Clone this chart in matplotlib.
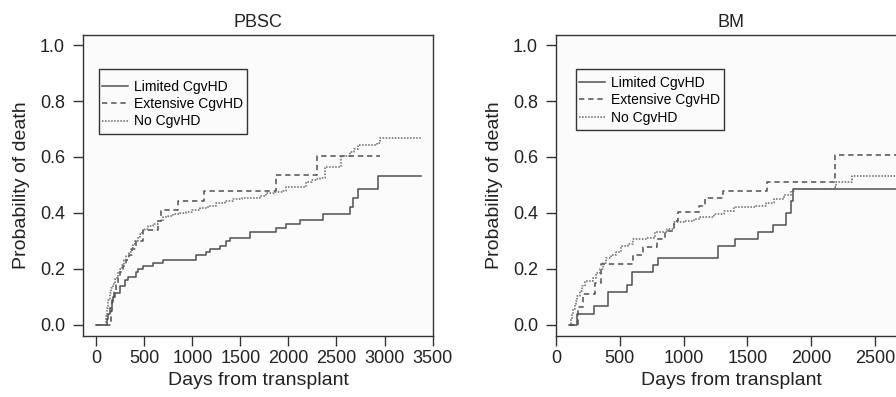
import matplotlib
matplotlib.use("Agg")
import matplotlib.pyplot as plt
from matplotlib.patches import Rectangle

plt.rcParams['font.family'] = ['Liberation Sans', 'DejaVu Sans']

# ---- data (days, cumulative probability of death) ----
# PBSC panel
pbsc_lim_x = [0, 105, 125, 140, 160, 175, 191, 243, 295, 330, 417, 434, 486, 590, 694,
              1042, 1146, 1187, 1285, 1354, 1389, 1597, 1875, 1979, 2118, 2361, 2639,
              2667, 2726, 2934, 3375]
pbsc_lim_y = [0, 0.02, 0.04, 0.06, 0.08, 0.10, 0.115, 0.137, 0.16, 0.17, 0.19, 0.20, 0.21,
              0.22, 0.23, 0.25, 0.26, 0.27, 0.28, 0.30, 0.31, 0.33, 0.345, 0.36, 0.375,
              0.395, 0.42, 0.453, 0.487, 0.533, 0.533]

pbsc_ext_x = [0, 150, 165, 180, 200, 225, 250, 280, 310, 340, 375, 417, 486, 645, 677,
              851, 1118, 1875, 2292, 2951]
pbsc_ext_y = [0, 0.05, 0.09, 0.12, 0.15, 0.17, 0.19, 0.21, 0.23, 0.25, 0.27, 0.30, 0.34,
              0.372, 0.41, 0.443, 0.479, 0.536, 0.604, 0.604]

pbsc_no_x = [0, 97, 110, 125, 139, 155, 170, 191, 210, 225, 243, 265, 290, 312, 335, 360,
             382, 405, 430, 451, 475, 503, 540, 590, 640, 694, 750, 799, 870, 937, 1000,
             1076, 1160, 1250, 1340, 1424, 1520, 1632, 1700, 1771, 1850, 1944, 1979, 2050,
             2118, 2187, 2240, 2292, 2330, 2378, 2552, 2639, 2680, 2726, 2917, 2951, 3375]
pbsc_no_y = [0, 0.03, 0.06, 0.09, 0.115, 0.13, 0.145, 0.163, 0.175, 0.188, 0.2, 0.215,
             0.232, 0.247, 0.262, 0.276, 0.288, 0.3, 0.313, 0.324, 0.335, 0.342, 0.352,
             0.36, 0.372, 0.384, 0.39, 0.396, 0.40, 0.404, 0.41, 0.416, 0.425, 0.435,
             0.442, 0.449, 0.452, 0.455, 0.462, 0.47, 0.475, 0.479, 0.491, 0.491, 0.493,
             0.511, 0.516, 0.521, 0.524, 0.563, 0.604, 0.616, 0.63, 0.644, 0.65, 0.667,
             0.667]

# BM panel
bm_lim_x = [105, 166, 297, 408, 553, 597, 763, 803, 1269, 1400, 1584, 1703, 1803, 1842,
            1855, 2760]
bm_lim_y = [0, 0.04, 0.068, 0.118, 0.143, 0.19, 0.215, 0.238, 0.282, 0.306, 0.33, 0.358,
            0.40, 0.443, 0.487, 0.487]

bm_ext_x = [105, 171, 210, 308, 355, 600, 684, 789, 855, 921, 960, 1118, 1171, 1311,
            1650, 2184, 2760]
bm_ext_y = [0, 0.062, 0.11, 0.151, 0.219, 0.249, 0.277, 0.306, 0.334, 0.372, 0.404,
            0.425, 0.455, 0.479, 0.509, 0.608, 0.608]

bm_no_x = [105, 115, 125, 132, 145, 155, 166, 185, 205, 224, 290, 315, 342, 365, 395,
           430, 474, 513, 566, 605, 711, 776, 869, 921, 1000, 1079, 1132, 1237, 1316,
           1395, 1566, 1645, 1711, 1790, 1842, 1869, 2184, 2198, 2316, 2760]
bm_no_y = [0, 0.02, 0.04, 0.056, 0.07, 0.085, 0.104, 0.12, 0.14, 0.157, 0.169, 0.185,
           0.2, 0.22, 0.24, 0.25, 0.259, 0.28, 0.288, 0.306, 0.312, 0.33, 0.344, 0.366,
           0.372, 0.378, 0.384, 0.396, 0.408, 0.42, 0.425, 0.435, 0.449, 0.464, 0.479,
           0.485, 0.491, 0.509, 0.533, 0.533]

labels = ['Limited CgvHD', 'Extensive CgvHD', 'No CgvHD']
y_ticks = [0.0, 0.2, 0.4, 0.6, 0.8, 1.0]

W, H = 896, 397
fig = plt.figure(figsize=(W / 100, H / 100), dpi=100)

ink = '#333333'
txt = '#222222'
line_col = '#505050'
dot_col = '#666666'
bg = '#fbfbfb'


def panel(rect, title, series, xlim, xticks, leg_anchor, leg_box):
    ax = fig.add_axes(rect)
    ax.set_facecolor(bg)
    (lx, ly), (ex, ey), (nx, ny) = series
    ax.step(lx, ly, where='post', color=line_col, lw=1.1, ls='-', label=labels[0])
    ax.step(ex, ey, where='post', color=line_col, lw=1.1, ls=(0, (3.5, 2.5)), label=labels[1])
    ax.step(nx, ny, where='post', color=dot_col, lw=1.1, ls=(0, (1, 1)), label=labels[2])
    ax.set_xlim(*xlim)
    ax.set_ylim(-0.04, 1.036)
    ax.set_xticks(xticks)
    ax.set_yticks(y_ticks)
    ax.set_yticklabels([f'{v:.1f}' for v in y_ticks])
    for s in ax.spines.values():
        s.set_color(ink)
        s.set_linewidth(1.0)
    ax.tick_params(axis='both', direction='out', length=7, width=1.0, color=ink,
                   labelsize=13, labelcolor=txt)
    ax.tick_params(axis='y', pad=6)
    ax.tick_params(axis='x', pad=3)
    ax.set_title(title, fontsize=13, pad=6, color=txt)
    ax.set_xlabel('Days from transplant', fontsize=14, labelpad=4, color=txt)
    ax.set_ylabel('Probability of death', fontsize=14, labelpad=7, color=txt)
    # legend without its own frame; the frame is drawn as a plain rectangle
    ax.legend(loc='upper left', bbox_to_anchor=leg_anchor, borderaxespad=0,
              borderpad=0, fontsize=10, handlelength=1.85, handletextpad=0.45,
              labelspacing=0.25, frameon=False)
    bx, by, bw, bh = leg_box
    ax.add_patch(Rectangle((bx, by), bw, bh, transform=ax.transAxes, fill=False,
                           edgecolor=ink, lw=1.0, zorder=5))
    return ax


ax_w = 350 / W
ax_h = 301 / H
ax_b = (H - 336) / H

panel([83 / W, ax_b, ax_w, ax_h], 'PBSC',
      [(pbsc_lim_x, pbsc_lim_y), (pbsc_ext_x, pbsc_ext_y), (pbsc_no_x, pbsc_no_y)],
      (-140, 3505), [0, 500, 1000, 1500, 2000, 2500, 3000, 3500],
      (0.054, 0.852), (0.0457, 0.671, 0.423, 0.216))

panel([556 / W, ax_b, ax_w, ax_h], 'BM',
      [(bm_lim_x, bm_lim_y), (bm_ext_x, bm_ext_y), (bm_no_x, bm_no_y)],
      (0, 2743), [0, 500, 1000, 1500, 2000, 2500],
      (0.066, 0.865), (0.057, 0.684, 0.423, 0.203))

fig.savefig('out.png', dpi=100)
